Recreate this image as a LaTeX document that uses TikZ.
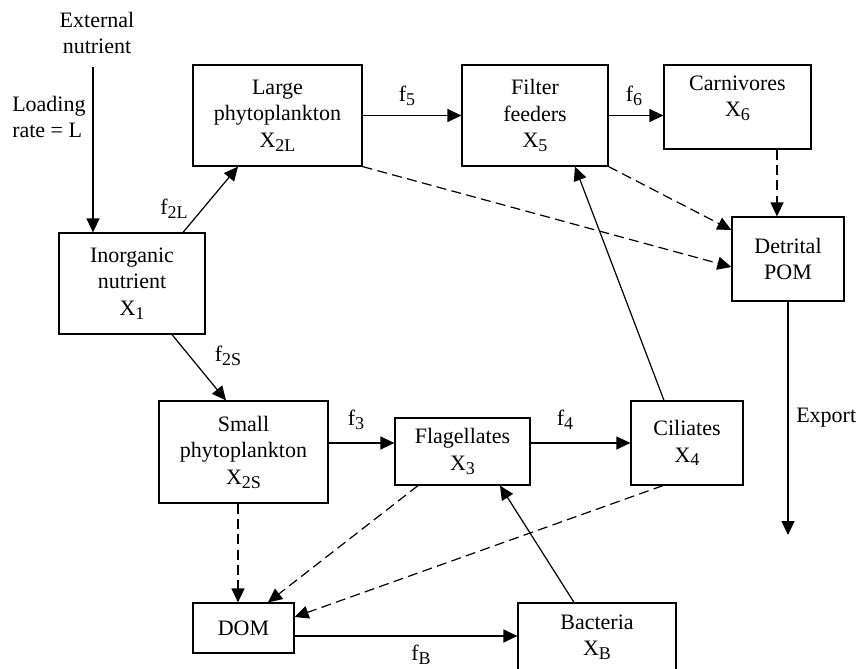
\documentclass[tikz,border=0pt]{standalone}
\usepackage{fontspec}
\setmainfont{Liberation Serif}
\usetikzlibrary{arrows.meta}
\newcommand\lowsub[1]{\raisebox{-2.8pt}{\fontsize{13.5}{13.5}\selectfont #1}}
\begin{document}
\begin{tikzpicture}[x=0.75pt,y=-0.75pt,
  font=\fontsize{16.5}{20}\selectfont,
  box/.style={draw, line width=0.9pt, inner sep=0pt, align=center},
  arr/.style={line width=0.9pt, -{Triangle[length=10.5pt,width=9.75pt]}},
  darr/.style={arr, dash pattern=on 7.5pt off 4pt},
  lbl/.style={inner sep=0pt, align=center}]
\clip (0,0) rectangle (860,668);
% boxes
\node[box, minimum width=109.5pt, minimum height=75.75pt] (inorg) at (132,283.5) {Inorganic\\nutrient\\X\lowsub{1}};
\node[box, minimum width=126.75pt, minimum height=75.75pt] (large) at (277.5,115.5) {Large\\phytoplankton\\X\lowsub{2L}};
\node[box, minimum width=109.5pt, minimum height=75.75pt] (filter) at (535,115.5) {Filter\\feeders\\X\lowsub{5}};
\node[box, minimum width=110.25pt, minimum height=63pt] (carn) at (737.5,107) {};
\node[lbl] (carntxt) at (737.5,98) {Carnivores\\X\lowsub{6}};
\node[box, minimum width=84pt, minimum height=63pt] (detr) at (788,259) {Detrital\\POM};
\node[box, minimum width=126.75pt, minimum height=76.5pt] (small) at (243.5,452) {Small\\phytoplankton\\X\lowsub{2S}};
\node[box, minimum width=101.25pt, minimum height=50.25pt] (flag) at (462.5,451.5) {Flagellates\\X\lowsub{3}};
\node[box, minimum width=84pt, minimum height=63pt] (cil) at (687,443) {Ciliates\\X\lowsub{4}};
\node[box, minimum width=75.75pt, minimum height=37.5pt] (dom) at (243.5,628) {DOM};
\node[box, minimum width=118.5pt, minimum height=51pt] (bact) at (597,637) {Bacteria\\X\lowsub{B}};
% free texts
\node[lbl] (ext) at (97,33) {External\\nutrient};
\node[lbl, align=left, anchor=west] (load) at (12,117) {Loading\\rate = L};
\node[lbl] (f2l) at (174,209) {f\lowsub{2L}};
\node[lbl] (f5) at (407,96) {f\lowsub{5}};
\node[lbl] (f6) at (634,96) {f\lowsub{6}};
\node[lbl] (f2s) at (228,356) {f\lowsub{2S}};
\node[lbl] (f3) at (356,420) {f\lowsub{3}};
\node[lbl] (f4) at (565,420) {f\lowsub{4}};
\node[lbl] (fb) at (421,655) {f\lowsub{B}};
\node[lbl, anchor=west] (export) at (796,418) {Export};
\coordinate (extstart) at (93,67);
\coordinate (expend) at (788,535);
% solid arrows
\draw[arr] (extstart) -- (inorg.north -| extstart);
\draw[arr] (inorg.north -| 183,0) -- (large.south -| 238,0);
\draw[arr] (large.east) -- (filter.west);
\draw[arr] (filter.east) -- (filter.east -| carn.west);
\draw[arr] (inorg.south -| 172,0) -- (small.north -| 226,0);
\draw[arr] (small.east |- 0,443) -- (flag.west |- 0,443);
\draw[arr] (flag.east |- cil.west) -- (cil.west);
\draw[arr] (cil.north -| 664,0) -- (filter.south -| 575,0);
\draw[arr] (dom.east |- 0,636) -- (bact.west |- 0,636);
\draw[arr] (bact.north -| 574,0) -- (flag.south -| 500,0);
\draw[arr] (detr.south) -- (expend);
% dashed arrows
\draw[darr] (carn.south -| 777,0) -- (detr.north -| 777,0);
\draw[darr] (filter.south east) -- (detr.west |- 0,230);
\draw[darr] (large.south east) -- (detr.west |- 0,267);
\draw[darr] (small.south -| 238,0) -- (dom.north -| 238,0);
\draw[darr] (flag.south -| 418,0) -- (dom.north -| 268,0);
\draw[darr] (cil.south -| 663,0) -- (dom.east |- 0,617);
\end{tikzpicture}
\end{document}
